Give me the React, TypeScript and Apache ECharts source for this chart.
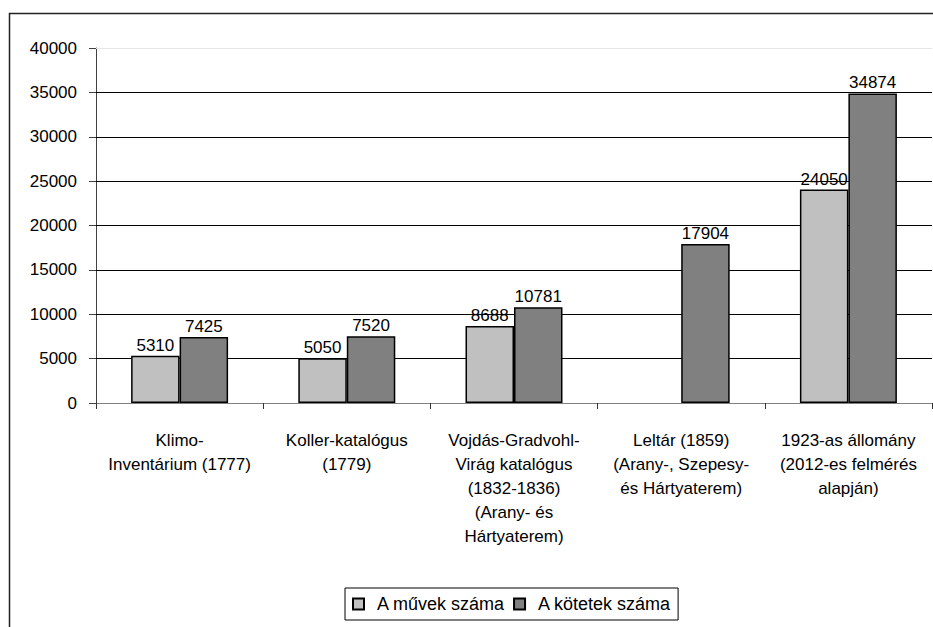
import React, { useEffect, useRef } from "react";
import * as echarts from "echarts";

const categories = [
  "Klimo-\nInventárium (1777)",
  "Koller-katalógus\n(1779)",
  "Vojdás-Gradvohl-\nVirág katalógus\n(1832-1836)\n(Arany- és\nHártyaterem)",
  "Leltár (1859)\n(Arany-, Szepesy-\nés Hártyaterem)",
  "1923-as állomány\n(2012-es felmérés\nalapján)",
];
const seriesNames = ["A művek száma", "A kötetek száma"];
const muvek: (number | null)[] = [5310, 5050, 8688, null, 24050];
const kotetek: number[] = [7425, 7520, 10781, 17904, 34874];
const yMax = 40000;
const yStep = 5000;
const gridValues = [5000, 10000, 15000, 20000, 25000, 30000, 35000];

const FONT = "Liberation Sans, Arial, sans-serif";
const FS = 17;

export default function App() {
  const ref = useRef<HTMLDivElement>(null);
  useEffect(() => {
    if (!ref.current) return;
    const chart = echarts.init(ref.current, undefined, { renderer: "svg" });
    const labelCfg = {
      show: true,
      position: "top" as const,
      distance: 2,
      color: "#000",
      fontSize: FS,
      fontFamily: FONT,
    };
    const markData: any[] = gridValues.map((v) => ({
      yAxis: v,
      lineStyle: { color: "#000", width: 1, type: "solid" },
    }));
    markData.push({ yAxis: yMax, lineStyle: { color: "#e6e6e6", width: 1, type: "solid" } });
    chart.setOption({
      animation: false,
      backgroundColor: "#fff",
      textStyle: { fontFamily: FONT },
      graphic: [
        {
          type: "rect",
          shape: { x: 9.5, y: 13.5, width: 1100, height: 800 },
          style: { fill: "none", stroke: "#222", lineWidth: 1.5 },
          silent: true,
        },
      ],
      grid: { left: 96, right: 1, top: 48, bottom: 224 },
      legend: {
        left: 345,
        top: 588,
        orient: "horizontal",
        data: seriesNames,
        icon: "rect",
        itemWidth: 11,
        itemHeight: 11,
        itemGap: 8,
        padding: [7, 7, 7, 7],
        borderColor: "#000",
        borderWidth: 1,
        textStyle: { fontSize: 18, color: "#000", fontFamily: FONT, padding: [0, 0, 0, 8] },
      },
      xAxis: {
        type: "category",
        data: categories,
        axisLine: { lineStyle: { color: "#808080", width: 1 } },
        axisTick: { show: true, length: 6, lineStyle: { color: "#333" } },
        axisLabel: {
          interval: 0,
          color: "#000",
          fontSize: FS,
          fontFamily: FONT,
          lineHeight: 24,
          margin: 25,
          align: "center",
        },
      },
      yAxis: {
        type: "value",
        min: 0,
        max: yMax,
        interval: yStep,
        axisLine: { show: true, lineStyle: { color: "#404040", width: 1 } },
        axisTick: { show: true, length: 7, lineStyle: { color: "#404040" } },
        axisLabel: {
          color: "#000",
          fontSize: FS,
          fontFamily: FONT,
          margin: 19,
          formatter: (v: number) => String(v),
        },
        splitLine: { show: false },
      },
      series: [
        {
          name: seriesNames[0],
          type: "bar",
          data: muvek,
          barGap: "0%",
          barCategoryGap: "42%",
          z: 3,
          itemStyle: { color: "#c0c0c0", borderColor: "#000", borderWidth: 1.5 },
          label: labelCfg,
          markLine: {
            silent: true,
            symbol: "none",
            z: 1,
            label: { show: false },
            emphasis: { disabled: true },
            data: markData,
          },
        },
        {
          name: seriesNames[1],
          type: "bar",
          data: kotetek,
          barGap: "0%",
          barCategoryGap: "42%",
          z: 3,
          itemStyle: { color: "#808080", borderColor: "#000", borderWidth: 1.5 },
          label: labelCfg,
        },
      ],
    });
    return () => chart.dispose();
  }, []);
  return (
    <div
      ref={ref}
      style={{ position: "absolute", left: 0, top: 0, width: 933, height: 627 }}
    />
  );
}
